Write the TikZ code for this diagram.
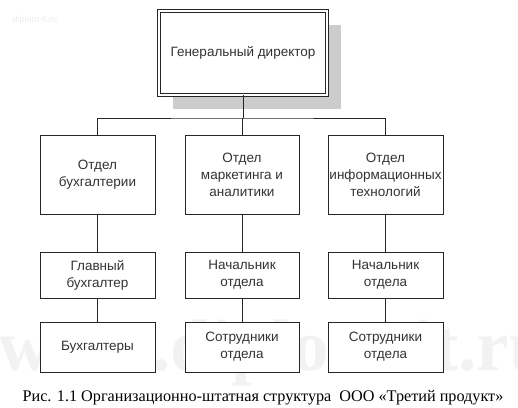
\documentclass[tikz,border=0pt]{standalone}
\usepackage{fontspec}
\setmainfont{Liberation Serif}
\newfontfamily\boxfont{Liberation Sans}
\usetikzlibrary{shadows}

\tikzset{
	orgbox/.style = {draw = black!85, line width = 0.8pt, fill = white, inner sep = 0pt, align = center, text = black!80, font = \boxfont\fontsize{13.5}{17}\selectfont},
	headbox/.style = {orgbox, double = white, double distance = 2.4pt, minimum width = 168pt, minimum height = 84pt, drop shadow = {shadow xshift = 14pt, shadow yshift = -14pt, fill = gray!40, opacity = 1}},
	deptbox/.style = {orgbox, minimum width = 115pt, minimum height = 79pt},
	chiefbox/.style = {orgbox, minimum width = 115pt, minimum height = 46pt},
	staffbox/.style = {orgbox, minimum width = 115pt, minimum height = 50pt},
	link/.style = {draw = black!85, line width = 0.8pt}
}

\begin{document}
\begin{tikzpicture}[x = 1pt, y = -1pt]

	\useasboundingbox (0, 0) rectangle (518, 407);

	% watermarks
	\node[anchor = base west, text = black!7, font = \boxfont\fontsize{9}{9}\selectfont] (wmark) at (9, 22) {diplom-it.ru};
	\node[anchor = base west, inner sep = 0pt, text = black!5, font = \bfseries\fontsize{73}{73}\selectfont] (wbig) at (-2, 370) {www.diplom-it.ru};

	% head
	\node[headbox] (gd) at (243, 53) {Генеральный директор};

	% departments
	\node[deptbox] (otdA) at (97.5, 174.5) {Отдел\\бухгалтерии};
	\node[deptbox, minimum width = 114pt] (otdB) at (242, 174.5) {Отдел\\маркетинга и\\аналитики};
	\node[deptbox] (otdC) at (385.5, 174.5) {Отдел\\информационных\\технологий};

	% chiefs
	\node[chiefbox] (chA) at (97.5, 275) {Главный\\бухгалтер};
	\node[chiefbox, minimum width = 114pt] (chB) at (242, 275) {Начальник\\отдела};
	\node[chiefbox] (chC) at (385.5, 275) {Начальник\\отдела};

	% staff
	\node[staffbox] (stA) at (97.5, 347) {Бухгалтеры};
	\node[staffbox, minimum width = 114pt] (stB) at (242, 347) {Сотрудники\\отдела};
	\node[staffbox] (stC) at (385.5, 347) {Сотрудники\\отдела};

	% connectors
	\coordinate (bus) at (243, 118);
	\draw[link] (gd.south) -- (bus);
	\draw[link] (otdA.north) |- (bus) -| (otdC.north);
	\draw[link] (otdB.north) -- (otdB.north |- bus);

	\draw[link] (otdA) -- (chA);
	\draw[link] (otdB) -- (chB);
	\draw[link] (otdC) -- (chC);
	\draw[link] (chA) -- (stA);
	\draw[link] (chB) -- (stB);
	\draw[link] (chC) -- (stC);

	% caption
	\node[anchor = base, inner sep = 0pt, font = \fontsize{16.2}{16.2}\selectfont] (cap) at (263, 401) {Рис. 1.1 Организационно-штатная структура~ ООО «Третий продукт»};

\end{tikzpicture}
\end{document}
